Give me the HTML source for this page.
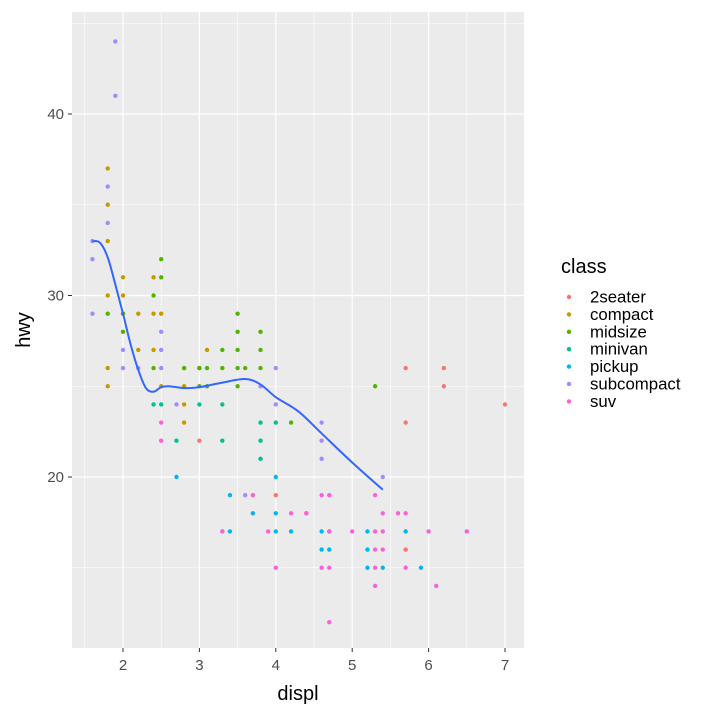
<!DOCTYPE html><html><head><style>body{margin:0;background:#fff}</style></head><body>
<svg id="s" width="720" height="720" xmlns="http://www.w3.org/2000/svg" font-family="Liberation Sans, sans-serif"></svg>
<script>
const s=document.getElementById('s');
const X=d=>123+(d-2)*76.4, Y=h=>477-(h-20)*18.15;
let o='<rect x="72" y="12" width="452" height="636" fill="#EBEBEB"/>';
for(let d=1.5;d<=7;d+=1)o+=`<line x1="${X(d)}" x2="${X(d)}" y1="12" y2="648" stroke="#fff" stroke-width="0.6"/>`;
for(let h=15;h<=45;h+=10)o+=`<line y1="${Y(h)}" y2="${Y(h)}" x1="72" x2="524" stroke="#fff" stroke-width="0.6"/>`;
for(let d=2;d<=7;d++)o+=`<line x1="${X(d)}" x2="${X(d)}" y1="12" y2="648" stroke="#fff" stroke-width="1.2"/><line x1="${X(d)}" x2="${X(d)}" y1="648" y2="652" stroke="#333"/><text x="${X(d)}" y="670" font-size="15" fill="#4D4D4D" text-anchor="middle">${d}</text>`;
for(let h=20;h<=40;h+=10)o+=`<line y1="${Y(h)}" y2="${Y(h)}" x1="72" x2="524" stroke="#fff" stroke-width="1.2"/><line y1="${Y(h)}" y2="${Y(h)}" x1="68" x2="72" stroke="#333"/><text x="64" y="${Y(h)+5}" font-size="15" fill="#4D4D4D" text-anchor="end">${h}</text>`;
const C={a:'#F8766D',c:'#C49A00',m:'#53B400',v:'#00C094',p:'#00B6EB',s:'#A58AFF',u:'#FB61D7'};
const P={s:[[1.9,44],[1.9,41],[1.6,33],[1.6,32],[1.6,29],[1.8,36],[1.8,34],[2,27],[2,26],[2.2,26],[2.5,27],[2.5,26],[2.5,28],[2.7,24],[4,26],[4,24],[3.8,25],[4.6,23],[4.6,22],[4.6,21],[5.4,20],[3.6,19],[3.3,17]],
c:[[1.8,37],[1.8,35],[1.8,33],[1.8,30],[1.8,26],[1.8,25],[2,31],[2,30],[2,29],[2.2,27],[2.4,31],[2.4,29],[2.4,27],[2.5,29],[2.8,26],[2.8,25],[2.8,24],[2.8,23],[3,26],[3.1,27],[2.2,29],[2.5,25]],
m:[[1.8,29],[2,29],[2,28],[2.4,30],[2.5,32],[2.5,31],[2.4,26],[3,26],[3.1,26],[3.3,27],[3.3,26],[3.5,29],[3.5,28],[3.5,27],[3.5,26],[3.6,26],[3.8,28],[3.8,27],[3.8,26],[3.5,25],[4.2,23],[5.3,25],[3.1,25],[2.8,26],[3,25]],
v:[[2.4,24],[2.7,22],[3.3,24],[3.3,22],[3.8,23],[3.8,22],[3.8,21],[4,23],[3,24],[2.5,24]],
p:[[2.7,20],[3.4,19],[4,20],[4.7,17],[4.7,16],[5.2,17],[5.2,15],[5.7,17],[5.9,15],[4,17],[3.4,17],[4.6,16],[5.4,15],[3.7,18],[4,18],[4.2,17],[5.2,16],[4.6,17]],
u:[[2.5,23],[2.5,22],[4.7,19],[4.6,19],[3.7,19],[4,15],[4.2,18],[4.4,18],[3.9,17],[4.7,17],[5.4,18],[5.3,19],[5.3,17],[5.3,16],[5.3,15],[5.4,17],[5.7,18],[5.6,18],[5.7,15],[6,17],[6.1,14],[6.5,17],[4.7,12],[5.3,14],[4.6,15],[4.7,15],[5,17],[5.4,16],[3.3,17],[4.4,18]],
a:[[5.7,26],[6.2,26],[6.2,25],[7,24],[5.7,23],[3,22],[4,19],[5.7,16]]};
for(const k in P)for(const [d,h] of P[k])o+=`<circle cx="${X(d)}" cy="${Y(h)}" r="2.2" fill="${C[k]}"/>`;
const L=[[1.6,33],[1.7,32.9],[1.8,32.1],[1.9,30.6],[2,29],[2.1,27.3],[2.2,25.9],[2.3,24.9],[2.4,24.7],[2.5,24.95],[2.6,25],[2.8,24.9],[3,24.95],[3.3,25.2],[3.6,25.4],[3.8,25.1],[4,24.4],[4.3,23.6],[4.6,22.4],[5,20.8],[5.4,19.3]].map(([d,h])=>[X(d),Y(h)]);
let pth=`M${L[0][0]},${L[0][1]}`;
for(let i=0;i<L.length-1;i++){const p0=L[Math.max(0,i-1)],p1=L[i],p2=L[i+1],p3=L[Math.min(L.length-1,i+2)];
pth+=` C${p1[0]+(p2[0]-p0[0])/6},${p1[1]+(p2[1]-p0[1])/6} ${p2[0]-(p3[0]-p1[0])/6},${p2[1]-(p3[1]-p1[1])/6} ${p2[0]},${p2[1]}`;}
o+=`<path fill="none" stroke="#3366FF" stroke-width="2" d="${pth}"/>`;
o+=`<text x="298" y="700" font-size="20" text-anchor="middle">displ</text><text transform="translate(30,330) rotate(-90)" font-size="20" text-anchor="middle">hwy</text>`;
o+=`<text x="561" y="273" font-size="20">class</text>`;
[['a','2seater'],['c','compact'],['m','midsize'],['v','minivan'],['p','pickup'],['s','subcompact'],['u','suv']].forEach(([k,t],i)=>{const y=297+i*17.4;o+=`<circle cx="569" cy="${y}" r="2.2" fill="${C[k]}"/><text x="590" y="${y+5.5}" font-size="16.8">${t}</text>`});
s.innerHTML=o;
</script></body></html>
